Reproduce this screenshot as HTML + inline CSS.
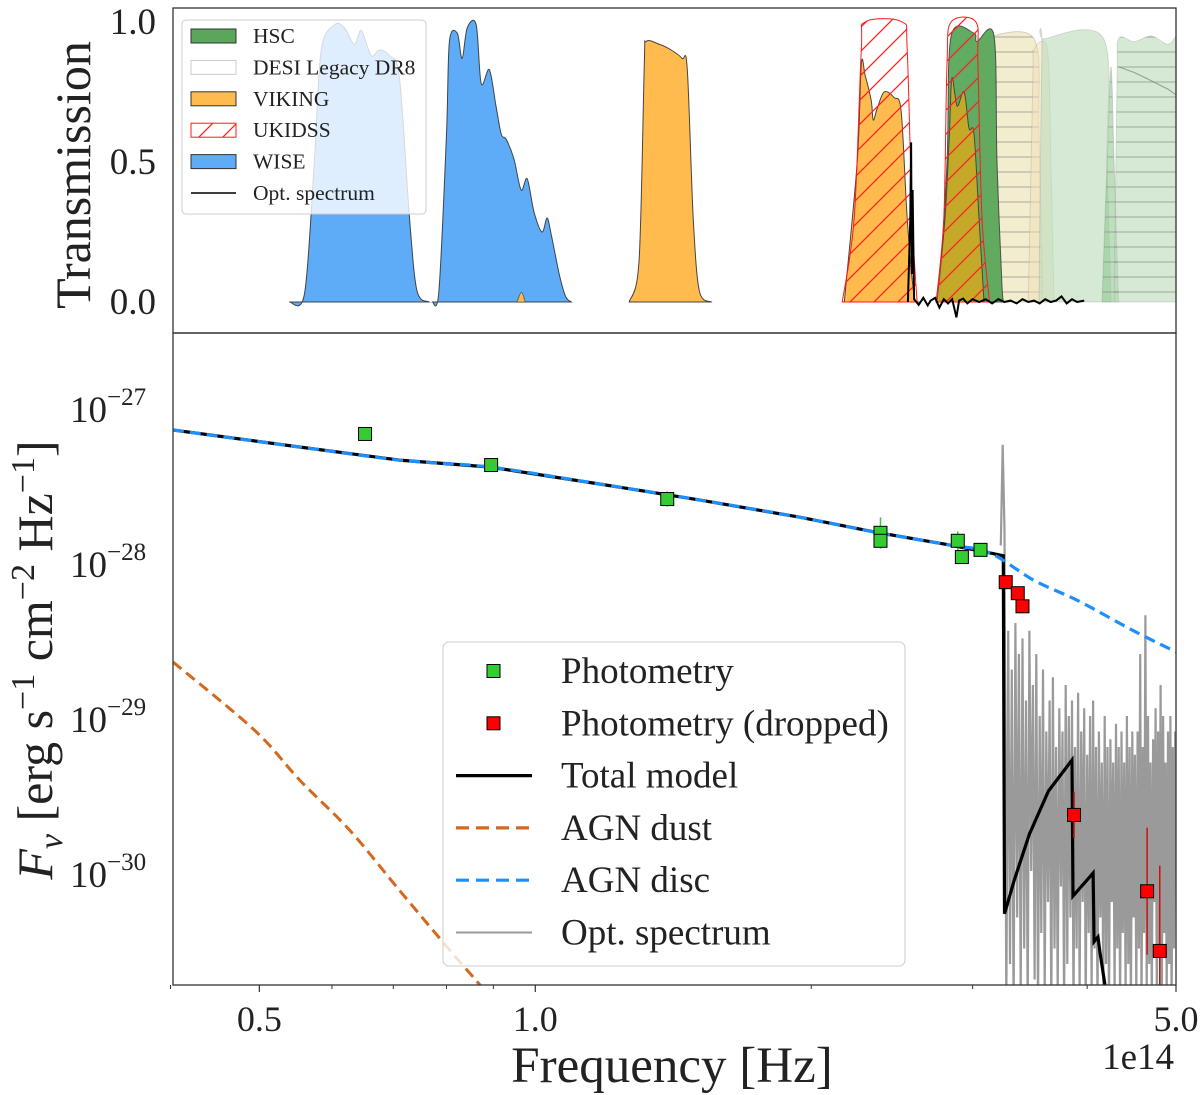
<!DOCTYPE html>
<html><head><meta charset="utf-8">
<style>
html,body{margin:0;padding:0;background:#fff;}
svg{display:block;font-family:"Liberation Serif","DejaVu Serif",serif;}
</style></head>
<body>
<svg id="chart" width="1200" height="1095" viewBox="0 0 1200 1095" xmlns="http://www.w3.org/2000/svg">
<defs>
<pattern id="hatchRed" patternUnits="userSpaceOnUse" width="24" height="24">
<path d="M-6,6 L6,-6 M0,24 L24,0 M18,30 L30,18" stroke="#ff2020" stroke-width="1.3"/>
</pattern>
<pattern id="hatchGrey" patternUnits="userSpaceOnUse" width="10" height="15">
<line x1="0" y1="7" x2="10" y2="7" stroke="#8a8a8a" stroke-opacity="0.55" stroke-width="1.3"/>
</pattern>
<clipPath id="clipTop"><rect x="173" y="8" width="1003" height="325"/></clipPath>
<clipPath id="clipBot"><rect x="173" y="333" width="1003" height="652"/></clipPath>
</defs>
<g id="top-layer" clip-path="url(#clipTop)"></g>
<g id="bot-layer" clip-path="url(#clipBot)"></g>
<g id="frame-layer"></g>
<g id="legend-layer"></g>
</svg>
<script>
// ---------- DATA (frequency in 1e14 Hz) ----------
const wise1Freq = [0.539,0.560,0.574,0.584,0.604,0.619,0.635,0.646,0.662,0.676,0.693,0.711,0.729,0.743,0.766];
const wise1Trans = [0,0.03,0.5,0.9,0.99,0.98,0.92,0.97,0.88,0.9,0.88,0.8,0.3,0.04,0];
const wise2Freq = [0.772,0.785,0.800,0.806,0.822,0.832,0.843,0.862,0.873,0.891,0.906,0.918,0.930,0.948,0.965,0.980,0.997,1.017,1.030,1.041,1.062,1.079,1.095];
const wise2Trans = [0,0.04,0.6,0.93,0.96,0.87,0.98,0.99,0.78,0.83,0.7,0.6,0.58,0.51,0.4,0.44,0.32,0.25,0.3,0.24,0.1,0.02,0];
const vikZFreq = [1.266,1.298,1.315,1.321,1.366,1.407,1.446,1.465,1.487,1.51,1.556];
const vikZTrans = [0,0.15,0.85,0.93,0.92,0.9,0.87,0.83,0.3,0.04,0];
const vikBumpFreq = [0.955,0.966,0.975];
const vikBumpTrans = [0,0.035,0];
const ukYFreq = [2.162,2.228,2.268,2.290,2.513,2.545,2.577,2.609];
const ukYTrans = [0,0.3,0.9,1.0,1.0,0.9,0.3,0];
const vikYFreq = [2.173,2.245,2.268,2.290,2.325,2.337,2.360,2.402,2.463,2.507,2.545,2.588,2.62];
const vikYTrans = [0,0.5,0.85,0.81,0.72,0.65,0.69,0.75,0.73,0.68,0.3,0.03,0];
const ukJFreq = [2.737,2.79,2.813,2.842,3.025,3.040,3.071,3.13];
const ukJTrans = [0,0.3,0.85,1.0,1.0,0.85,0.3,0];
const vikJFreq = [2.743,2.799,2.83,2.848,2.885,2.936,2.973,3.010,3.048,3.087];
const vikJTrans = [0,0.3,0.6,0.8,0.7,0.75,0.62,0.6,0.3,0];
const hscFreq = [2.757,2.813,2.842,3.010,3.033,3.165,3.189,3.23,3.254];
const hscTrans = [0,0.5,0.95,0.96,0.93,0.95,0.5,0.05,0];
const desiZFreq = [3.0,3.03,3.05,3.08,3.50,3.544,3.578];
const desiZTrans = [0,0.5,0.9,0.94,0.94,0.6,0];
const desiTanFreq = [3.45,3.49,3.50,3.62,3.652,3.68];
const desiTanTrans = [0,0.8,0.9,0.9,0.5,0];
const desiW1Freq = [3.544,3.57,3.597,4.17,4.205,4.247];
const desiW1Trans = [0,0.9,0.94,0.94,0.5,0];
const desiNarFreq = [4.153,4.205,4.247,4.28,4.33];
const desiNarTrans = [0,0.5,0.84,0.5,0];
const desiW2Freq = [4.28,4.312,4.33,4.5,4.7,4.9,5.0];
const desiW2Trans = [0,0.8,0.94,0.93,0.95,0.92,0.95];
const desiLineFreq = [4.33,4.5,4.7,4.9,5.0];
const desiLineTrans = [0.84,0.82,0.79,0.76,0.74];
const specTopFreq = [2.55,2.565,2.57,2.575,2.58,2.59,2.62,2.65,2.68,2.70,2.73,2.76,2.79,2.82,2.85,2.88,2.90,2.93,2.96,3.0,3.05,3.1,3.15,3.2,3.25,3.3,3.35,3.4,3.45,3.5,3.55,3.6,3.65,3.7,3.75,3.8,3.85,3.9,3.97];
const specTopTrans = [0.0,0.3,0.57,0.1,0.4,0.01,-0.01,0.015,-0.012,0.005,0.015,-0.02,0.01,-0.005,0.01,-0.055,0.005,0.012,-0.005,0.01,0.0,0.01,-0.005,0.01,0.0,0.005,-0.005,0.01,0.0,0.005,-0.005,0.01,0.0,0.005,0.02,-0.005,0.01,0.0,0.005];

const photFreq = [0.652,0.895,1.393,2.38,2.38,2.89,2.92,3.06];
const photFlux = [6.6e-28,4.16e-28,2.51e-28,1.52e-28,1.35e-28,1.35e-28,1.06e-28,1.18e-28];
const photErrDex = [0.02,0.02,0.05,0.1,0.05,0.06,0.03,0.02];
const dropFreq = [3.26,3.36,3.40,3.87,4.65,4.80];
const dropFlux = [7.3e-29,6.2e-29,5.1e-29,2.3e-30,7.4e-31,3.05e-31];
const dropErrDex = [0.02,0.02,0.03,0.15,0.41,0.55];
const modelFreq = [0.4025,0.553,0.711,0.891,1.175,1.51,1.94,2.37,2.83,3.13,3.24,3.25,3.33,3.46,3.63,3.85,3.86,4.06,4.07,4.11,4.13,4.25];
const modelFlux = [7.0e-28,5.44e-28,4.48e-28,4.04e-28,3.14e-28,2.48e-28,1.92e-28,1.52e-28,1.27e-28,1.13e-28,1.08e-28,5.3e-31,8.7e-31,1.73e-30,3.28e-30,5.2e-30,6.9e-31,9.7e-31,3.5e-31,3.75e-31,3.0e-31,1.0e-31];
const discFreq = [0.4025,0.553,0.711,0.891,1.175,1.51,1.94,2.37,2.83,3.13,3.5,3.92,4.5,5.0];
const discFlux = [7.0e-28,5.44e-28,4.48e-28,4.04e-28,3.14e-28,2.48e-28,1.92e-28,1.52e-28,1.27e-28,1.13e-28,7.5e-29,5.5e-29,3.53e-29,2.59e-29];
const dustFreq = [0.4025,0.494,0.553,0.627,0.711,0.806,0.87,0.89];
const dustFlux = [2.23e-29,8.1e-30,3.87e-30,1.84e-30,7.5e-31,3.1e-31,1.84e-31,1.5e-31];
const specFreq = [3.220,3.235,3.250,3.265,3.280,3.295,3.310,3.325,3.340,3.355,3.370,3.385,3.400,3.415,3.430,3.445,3.460,3.475,3.490,3.505,3.520,3.535,3.550,3.565,3.580,3.595,3.610,3.625,3.640,3.655,3.670,3.685,3.700,3.715,3.730,3.745,3.760,3.775,3.790,3.805,3.820,3.835,3.850,3.865,3.880,3.895,3.910,3.925,3.940,3.955,3.970,3.985,4.000,4.015,4.030,4.045,4.060,4.075,4.090,4.105,4.120,4.135,4.150,4.165,4.180,4.195,4.210,4.225,4.240,4.255,4.270,4.285,4.300,4.315,4.330,4.345,4.360,4.375,4.390,4.405,4.420,4.435,4.450,4.465,4.480,4.495,4.510,4.525,4.540,4.555,4.570,4.585,4.600,4.615,4.630,4.645,4.660,4.675,4.690,4.705,4.720,4.735,4.750,4.765,4.780,4.795,4.810,4.825,4.840,4.855,4.870,4.885,4.900,4.915,4.930,4.945,4.960,4.975,4.990];
const specLogFlux = [-27.9,-27.25,-27.8,-30.9,-28.45,-30.6,-28.7,-30.9,-28.4,-30.3,
-28.6,-30.8,-28.5,-30.5,-28.9,-30.9,-28.45,-30.0,-28.8,-30.7,
-28.6,-30.9,-29.0,-30.4,-28.7,-30.8,-29.1,-30.2,-28.9,-30.9,
-28.75,-30.5,-29.2,-30.8,-28.95,-30.1,-29.1,-30.9,-28.8,-30.6,
-29.0,-30.3,-28.9,-30.9,-29.2,-30.5,-28.85,-30.8,-29.1,-30.2,
-28.95,-30.9,-29.25,-30.4,-29.0,-30.8,-28.9,-30.5,-29.2,-30.9,
-29.1,-30.3,-29.3,-30.8,-29.0,-30.6,-29.2,-30.9,-29.15,-30.2,
-29.3,-30.8,-29.05,-30.5,-29.2,-30.9,-29.1,-30.4,-29.3,-30.8,
-29.0,-30.6,-29.2,-30.9,-29.1,-30.3,-29.25,-30.8,-29.1,-30.5,
-28.6,-30.9,-29.2,-30.4,-28.35,-30.8,-29.0,-30.6,-29.3,-30.9,
-29.15,-30.2,-28.95,-30.8,-29.1,-30.5,-28.8,-30.9,-29.0,-30.4,
-29.3,-30.8,-29.1,-30.6,-29.0,-30.9,-29.2,-30.5,-29.1];

const xTickVals = [0.5,1.0,5.0];
const xTickLabels = ["0.5","1.0","5.0"];
const xMinorVals = [0.4,0.6,0.7,0.8,0.9,2,3,4];
const topTickVals = [1.0,0.5,0.0];
const topTickLabels = ["1.0","0.5","0.0"];
const botTickExps = [-27,-28,-29,-30];

// ---------- SCALES ----------
const X0 = 173, X1 = 1176, LMIN = Math.log10(0.4025), LMAX = Math.log10(5.0);
function xS(f){ return X0 + (Math.log10(f)-LMIN)/(LMAX-LMIN)*(X1-X0); }
function yT(t){ return 302 - t*280; }
function yB(F){ return 406 - (Math.log10(F)+27)*155; }
function yBL(l){ return 406 - (l+27)*155; }

const NS = "http://www.w3.org/2000/svg";
function mk(tag, attrs, parent){
  const e = document.createElementNS(NS, tag);
  for (const k in attrs) e.setAttribute(k, attrs[k]);
  parent.appendChild(e);
  return e;
}
const topL = document.getElementById('top-layer');
const botL = document.getElementById('bot-layer');
const frL = document.getElementById('frame-layer');
const lgL = document.getElementById('legend-layer');

// smooth path through points (Catmull-Rom, moderate tension)
function smooth(pts, move){
  let d = (move ? "M" : " L") + pts[0][0].toFixed(1) + "," + pts[0][1].toFixed(1);
  const k = 0.16;
  for (let i=0;i<pts.length-1;i++){
    const p0 = pts[Math.max(0,i-1)], p1 = pts[i], p2 = pts[i+1], p3 = pts[Math.min(pts.length-1,i+2)];
    const c1x = p1[0] + (p2[0]-p0[0])*k, c1y = p1[1] + (p2[1]-p0[1])*k;
    const c2x = p2[0] - (p3[0]-p1[0])*k, c2y = p2[1] - (p3[1]-p1[1])*k;
    d += " C" + c1x.toFixed(1)+","+c1y.toFixed(1)+" "+c2x.toFixed(1)+","+c2y.toFixed(1)+" "+p2[0].toFixed(1)+","+p2[1].toFixed(1);
  }
  return d;
}
function areaPath(fr, tr){
  const pts = fr.map((f,i)=>[xS(f), yT(tr[i])]);
  let d = "M" + xS(fr[0]).toFixed(1) + "," + yT(0).toFixed(1);
  d += smooth(pts, false);
  d += " L" + xS(fr[fr.length-1]).toFixed(1) + "," + yT(0).toFixed(1) + " Z";
  return d;
}
function linePathT(fr, tr){
  let d = "";
  for (let i=0;i<fr.length;i++) d += (i?" L":"M") + xS(fr[i]).toFixed(1) + "," + yT(tr[i]).toFixed(1);
  return d;
}
function linePathB(fr, fl){
  let d = "";
  for (let i=0;i<fr.length;i++) d += (i?" L":"M") + xS(fr[i]).toFixed(1) + "," + yB(fl[i]).toFixed(1);
  return d;
}
function smoothPathB(fr, fl){
  return smooth(fr.map((f,i)=>[xS(f), yB(fl[i])]), true);
}
function band(name, fr, tr, fill, op, stroke, sop){
  const p = mk('path', {d: areaPath(fr,tr), fill: fill, 'fill-opacity': op, stroke: stroke, 'stroke-opacity': sop, 'stroke-width': 1}, topL);
  
  
  return p;
}

// ---------- TOP PANEL ----------
let p;
p = band('desi-z-filter', desiZFreq, desiZTrans, '#e8dfa8', 0.55, '#999', 0.4);
p = band('desi-z-hatch', desiZFreq, desiZTrans, 'url(#hatchGrey)', 1, 'none', 0);
p = band('desi-tan-filter', desiTanFreq, desiTanTrans, '#f3dfb6', 0.55, '#999', 0.3);
p = band('desi-w1-filter', desiW1Freq, desiW1Trans, '#b9dbb9', 0.6, '#999', 0.3);
p = band('desi-narrow-filter', desiNarFreq, desiNarTrans, '#8fc98f', 0.6, '#999', 0.4);
p = band('desi-w2-filter', desiW2Freq, desiW2Trans, '#b9dbb9', 0.6, '#999', 0.3);
p = band('desi-w2-hatch', desiW2Freq, desiW2Trans, 'url(#hatchGrey)', 1, 'none', 0);
p = band('desi-narrow-hatch', desiNarFreq, desiNarTrans, 'url(#hatchGrey)', 1, 'none', 0);
p = mk('path', {d: linePathT(desiLineFreq, desiLineTrans), fill:'none', stroke:'#888', 'stroke-width':1.2, 'stroke-opacity':0.7}, topL);



p = band('wise-w1-filter', wise1Freq, wise1Trans, '#5eacf7', 1, '#333', 0.9);
p = band('wise-w2-filter', wise2Freq, wise2Trans, '#5eacf7', 1, '#333', 0.9);
p = band('viking-z-filter', vikZFreq, vikZTrans, '#ffbb4d', 1, '#333', 0.9);
p = band('viking-bump', vikBumpFreq, vikBumpTrans, '#ffbb4d', 1, '#333', 0.6);
p = band('hsc-y-filter', hscFreq, hscTrans, '#5aa65a', 0.95, '#333', 0.8);
p = band('viking-y-filter', vikYFreq, vikYTrans, '#ffbb4d', 1, '#333', 0.9);
p = band('viking-j-filter', vikJFreq, vikJTrans, '#d6a820', 0.85, '#333', 0.8);
p = band('ukidss-y-hatch', ukYFreq, ukYTrans, 'url(#hatchRed)', 1, '#ff1a1a', 1);
p = band('ukidss-j-hatch', ukJFreq, ukJTrans, 'url(#hatchRed)', 1, '#ff1a1a', 1);
p = mk('path', {d: linePathT(specTopFreq, specTopTrans), fill:'none', stroke:'#000', 'stroke-width':2}, topL);



// ---------- BOTTOM PANEL ----------
p = mk('path', {d: (function(){let d="";for(let i=0;i<specFreq.length;i++) d+=(i?" L":"M")+xS(specFreq[i]).toFixed(1)+","+yBL(specLogFlux[i]).toFixed(1);return d;})(), fill:'none', stroke:'#9a9a9a', 'stroke-width':2.2, 'stroke-linejoin':'miter'}, botL);



p = mk('path', {d: smoothPathB(dustFreq, dustFlux), fill:'none', stroke:'#d2691e', 'stroke-width':3, 'stroke-dasharray':'11,6'}, botL);


p = mk('path', {d: linePathB(modelFreq, modelFlux), fill:'none', stroke:'#000', 'stroke-width':3.2}, botL);


p = mk('path', {d: smoothPathB(discFreq, discFlux), fill:'none', stroke:'#1e8fff', 'stroke-width':3.2, 'stroke-dasharray':'11,6'}, botL);



for (let i=0;i<photFreq.length;i++){
  const x = xS(photFreq[i]);
  const e = mk('line', {x1:x, x2:x, y1: yB(photFlux[i]*Math.pow(10,photErrDex[i])), y2: yB(photFlux[i]/Math.pow(10,photErrDex[i])), stroke:'#33cc33', 'stroke-width':1.5}, botL);
  
  
}
for (let i=0;i<dropFreq.length;i++){
  const x = xS(dropFreq[i]);
  const e = mk('line', {x1:x, x2:x, y1: yB(dropFlux[i]*Math.pow(10,dropErrDex[i])), y2: yB(dropFlux[i]/Math.pow(10,dropErrDex[i])), stroke:'#cc1010', 'stroke-width':1.5}, botL);
  
  
}
for (let i=0;i<photFreq.length;i++){
  const x = xS(photFreq[i]), y = yB(photFlux[i]);
  const e = mk('rect', {x:x-6.5, y:y-6.5, width:13, height:13, fill:'#33cc33', stroke:'#000', 'stroke-width':1}, botL);
  
  
}
for (let i=0;i<dropFreq.length;i++){
  const x = xS(dropFreq[i]), y = yB(dropFlux[i]);
  const e = mk('rect', {x:x-6.5, y:y-6.5, width:13, height:13, fill:'#ff0000', stroke:'#000', 'stroke-width':1}, botL);
  
  
}

// ---------- FRAMES & AXES ----------
p = mk('rect', {x:173, y:8, width:1003, height:325, fill:'none', stroke:'#333', 'stroke-width':1.3}, frL);


p = mk('rect', {x:173, y:333, width:1003, height:652, fill:'none', stroke:'#333', 'stroke-width':1.3}, frL);



for (let i=0;i<topTickVals.length;i++){
  const y = yT(topTickVals[i]);
  const l = mk('text', {x:156, y:y+12, 'text-anchor':'end', 'font-size':37, fill:'#222'}, frL);
  l.textContent = topTickLabels[i];
  
  
}
p = mk('text', {x:0, y:0, 'text-anchor':'middle', 'font-size':50, fill:'#222', transform:'translate(90,175) rotate(-90)'}, frL);
p.textContent = 'Transmission';



for (let i=0;i<botTickExps.length;i++){
  const y = yBL(botTickExps[i]);
  const l = mk('text', {x:70, y:y+16, 'font-size':37, fill:'#222'}, frL);
  
  
  const t1 = mk('tspan', {}, l); t1.textContent = '10';
  const t2 = mk('tspan', {dy:-17, 'font-size':25}, l); t2.textContent = '\u2212' + String(-botTickExps[i]);
}
p = mk('text', {x:0, y:0, 'text-anchor':'middle', 'font-size':50, fill:'#222', transform:'translate(52,660) rotate(-90)'}, frL);


(function(){
  const parts = [['F','italic',50,0],['\u03BD','italic',34,10],[' [erg s','normal',50,-10],['\u22121','normal',34,-18],[' cm','normal',50,18],['\u22122','normal',34,-18],[' Hz','normal',50,18],['\u22121','normal',34,-18],[']','normal',50,18]];
  for (const q of parts){ const s = mk('tspan', {'font-style':q[1], 'font-size':q[2], dy:q[3]}, p); s.textContent = q[0]; }
})();

for (let i=0;i<xTickVals.length;i++){
  const x = xS(xTickVals[i]);
  const t = mk('line', {x1:x, x2:x, y1:985, y2:992, stroke:'#333', 'stroke-width':1.2}, frL);
  
  
  const l = mk('text', {x:x, y:1031, 'text-anchor':'middle', 'font-size':36, fill:'#222'}, frL);
  l.textContent = xTickLabels[i];
  
  
}
for (let i=0;i<xMinorVals.length;i++){
  const x = xS(xMinorVals[i]);
  const t = mk('line', {x1:x, x2:x, y1:985, y2:989, stroke:'#333', 'stroke-width':1}, frL);
  
  
}
p = mk('text', {x:672, y:1082, 'text-anchor':'middle', 'font-size':51, fill:'#222'}, frL);
p.textContent = 'Frequency [Hz]';


p = mk('text', {x:1174, y:1069, 'text-anchor':'end', 'font-size':37, fill:'#222'}, frL);
p.textContent = '1e14';



// ---------- LEGENDS ----------
p = mk('rect', {x:182, y:20, width:244, height:194, rx:4, fill:'#fff', 'fill-opacity':0.8, stroke:'#ccc', 'stroke-width':1}, lgL);


const topLeg = [
  ['HSC','patch','#5aa65a','#333'],
  ['DESI Legacy DR8','patch','#fff','#ccc'],
  ['VIKING','patch','#ffbb4d','#333'],
  ['UKIDSS','hatch','url(#hatchRed)','#ff1a1a'],
  ['WISE','patch','#5eacf7','#333'],
  ['Opt. spectrum','line','#000','#000']
];
for (let i=0;i<topLeg.length;i++){
  const y = 36 + i*31.4;
  const g = mk('g', {}, lgL);
  
  
  if (topLeg[i][1]==='line') mk('line', {x1:191, x2:236, y1:y, y2:y, stroke:'#000', 'stroke-width':1.6}, g);
  else mk('rect', {x:191, y:y-7, width:45, height:14, fill:topLeg[i][2], stroke:topLeg[i][3], 'stroke-width':1}, g);
  const t = mk('text', {x:253, y:y+7, 'font-size':21.5, fill:'#222'}, g);
  t.textContent = topLeg[i][0];
}

p = mk('rect', {x:443, y:642, width:462, height:324, rx:6, fill:'#fff', 'fill-opacity':0.8, stroke:'#ccc', 'stroke-width':1}, lgL);


const botLeg = [
  ['Photometry','sq','#33cc33'],
  ['Photometry (dropped)','sq','#ff0000'],
  ['Total model','solid','#000'],
  ['AGN dust','dash','#d2691e'],
  ['AGN disc','dash','#1e8fff'],
  ['Opt. spectrum','thin','#9a9a9a']
];
for (let i=0;i<botLeg.length;i++){
  const y = 671 + i*52.3;
  const g = mk('g', {}, lgL);
  
  
  const k = botLeg[i][1];
  if (k==='sq') mk('rect', {x:487, y:y-6.5, width:13, height:13, fill:botLeg[i][2], stroke:'#000', 'stroke-width':1}, g);
  else if (k==='solid') mk('line', {x1:456, x2:532, y1:y, y2:y, stroke:'#000', 'stroke-width':3.2}, g);
  else if (k==='dash') mk('line', {x1:456, x2:532, y1:y, y2:y, stroke:botLeg[i][2], 'stroke-width':3.2, 'stroke-dasharray':'13,7'}, g);
  else mk('line', {x1:456, x2:532, y1:y, y2:y, stroke:botLeg[i][2], 'stroke-width':2}, g);
  const t = mk('text', {x:561, y:y+12, 'font-size':37, fill:'#222'}, g);
  t.textContent = botLeg[i][0];
}
</script>
</body></html>
